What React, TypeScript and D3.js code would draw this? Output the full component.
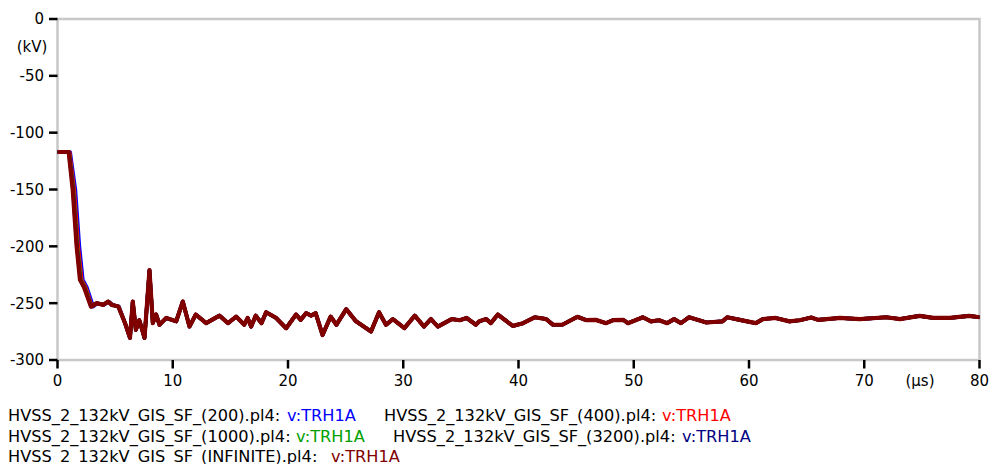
import React from "react";
import * as d3 from "d3";

// ---- data (time in µs, voltage in kV) ----
// initial drop: shared voltage levels, each series reaches them at slightly different times
const headValues = [-117, -117, -150, -200, -229.5, -236, -253, -250, -251.5, -248.6, -251.5, -253];
const headT200 = [0, 1.1, 1.55, 1.9, 2.2, 2.55, 3.1, 3.5, 4.05, 4.45, 4.8, 5.33];
const headT400 = [0, 1.05, 1.45, 1.8, 2.1, 2.45, 3.0, 3.45, 4.0, 4.42, 4.75, 5.3];
const headT1000 = [0, 1.0, 1.38, 1.72, 2.02, 2.37, 2.95, 3.42, 3.98, 4.41, 4.72, 5.29];
const headT3200 = [0, 0.98, 1.34, 1.68, 1.97, 2.32, 2.92, 3.4, 3.97, 4.4, 4.7, 5.28];
const headTInf = [0, 0.97, 1.32, 1.66, 1.95, 2.3, 2.9, 3.4, 3.97, 4.4, 4.7, 5.28];

const tailTimes = [
  5.86, 6.29, 6.53, 6.8, 7.1, 7.55, 7.98, 8.27, 8.56, 8.85, 9.43, 10.3, 10.87, 11.45, 12.0, 12.9,
  14.05, 14.8, 15.5, 16.2, 16.5, 16.8, 17.2, 17.7, 18.1, 18.97, 19.84, 20.7, 21.1, 21.57, 22.0,
  22.4, 23.0, 23.7, 24.2, 25.05, 25.9, 27.2, 27.9, 28.5, 29.1, 30.1, 31.0, 31.8, 32.4, 33.0, 34.2,
  34.9, 35.5, 36.3, 36.6, 37.2, 37.6, 38.2, 39.5, 40.4, 41.4, 42.4, 43.0, 43.8, 45.1, 45.9, 46.7,
  47.6, 48.2, 49.1, 49.5, 50.8, 51.5, 52.2, 52.9, 53.5, 54.1, 54.8, 56.3, 57.7, 58.1, 59.2, 60.6,
  61.2, 62.3, 63.5, 64.4, 65.4, 66.0, 67.9, 69.6, 71.9, 73.1, 74.8, 76, 77.4, 79.1, 80,
];
const tailValues = [
  -267.6, -280.6, -248.6, -273.5, -265, -280.6, -221, -267.5, -260, -269, -263, -266, -248.6, -270.6,
  -260, -267.6, -261, -267.6, -261.8, -269, -263, -270.6, -261, -267.6, -258, -263, -272, -260,
  -264.7, -258.8, -261, -258.8, -278, -261.8, -269, -255.3, -266, -275, -258, -269, -264, -272,
  -261, -270.6, -264, -270.6, -264, -265, -263, -269, -266, -264, -267.6, -260, -270, -267.6,
  -262.4, -264, -269, -269, -262, -265, -264.7, -267.6, -265, -264.7, -267.6, -262.4, -266, -265,
  -267.6, -264, -267.6, -262.4, -267, -266, -262.4, -264.7, -267.6, -264, -263, -266, -265, -262.6,
  -264.7, -263, -264, -262.4, -264, -261.2, -263, -263, -261.2, -262.4,
];

const seriesFiles = [
  "HVSS_2_132kV_GIS_SF_(200).pl4:",
  "HVSS_2_132kV_GIS_SF_(400).pl4:",
  "HVSS_2_132kV_GIS_SF_(1000).pl4:",
  "HVSS_2_132kV_GIS_SF_(3200).pl4:",
  "HVSS_2_132kV_GIS_SF_(INFINITE).pl4:",
];
const seriesVar = ["v:TRH1A", "v:TRH1A", "v:TRH1A", "v:TRH1A", "v:TRH1A"];
const seriesHeadTimes = [headT200, headT400, headT1000, headT3200, headTInf];
const seriesColors = ["#0000ff", "#ff0000", "#00a000", "#000080", "#800000"];

const xTicks = [0, 10, 20, 30, 40, 50, 60, 70, 80];
const yTicks = [0, -50, -100, -150, -200, -250, -300];

// ---- layout ----
const W = 993;
const H = 464;
const left = 57.5;
const right = 979.5;
const top = 19;
const bottom = 360;
const FONT = "DejaVu Sans, sans-serif";

// legend positions [x file, x var, baseline y]
const legendPos = [
  [8, 287, 421],
  [384, 662, 421],
  [8, 296, 442],
  [393, 682, 442],
  [8, 331, 462],
];

export default function App() {
  const x = d3.scaleLinear().domain([0, 80]).range([left, right]);
  const y = d3.scaleLinear().domain([-300, 0]).range([bottom, top]);
  const line = d3
    .line<[number, number]>()
    .x((d) => x(d[0]))
    .y((d) => y(d[1]));

  const vals = headValues.concat(tailValues);
  const paths = seriesHeadTimes.map((ht) => {
    const times = ht.concat(tailTimes);
    return line(times.map((t, i) => [t, vals[i]] as [number, number])) || "";
  });

  return (
    <svg
      width={W}
      height={H}
      style={{ position: "absolute", left: 0, top: 0, background: "#fff" }}
      fontFamily={FONT}
    >
      <rect x={0} y={0} width={W} height={H} fill="#fff" />
      <rect
        x={left}
        y={top}
        width={right - left}
        height={bottom - top}
        fill="none"
        stroke="#c8c8c8"
        strokeWidth={2.5}
      />
      <defs>
        <clipPath id="plotclip">
          <rect x={left} y={top} width={right - left} height={bottom - top} />
        </clipPath>
      </defs>
      <g clipPath="url(#plotclip)" fill="none" strokeLinejoin="round" strokeLinecap="round">
        {paths.map((p, i) => (
          <path key={i} d={p} stroke={seriesColors[i]} strokeWidth={i === 4 ? 4.2 : 3.6} />
        ))}
      </g>
      {yTicks.map((v) => (
        <g key={"y" + v}>
          <line x1={left - 8.5} x2={left} y1={y(v)} y2={y(v)} stroke="#000" strokeWidth={2.5} />
          <text x={44} y={y(v)} dy="0.36em" textAnchor="end" fontSize={15} fill="#000">
            {d3.format("d")(v).replace("\u2212", "-")}
          </text>
        </g>
      ))}
      <text x={32} y={47} dy="0.36em" textAnchor="middle" fontSize={15} fill="#000">
        (kV)
      </text>
      {xTicks.map((v) => (
        <g key={"x" + v}>
          <line x1={x(v)} x2={x(v)} y1={bottom} y2={bottom + 8.5} stroke="#000" strokeWidth={2.5} />
          <text x={x(v)} y={381} dy="0.36em" textAnchor="middle" fontSize={15} fill="#000">
            {v}
          </text>
        </g>
      ))}
      <text x={920} y={381} dy="0.36em" textAnchor="middle" fontSize={15} fill="#000">
        (µs)
      </text>
      {seriesFiles.map((f, i) => (
        <g key={"l" + i}>
          <text x={legendPos[i][0]} y={legendPos[i][2]} fontSize={16.2} fill="#000">
            {f}
          </text>
          <text x={legendPos[i][1]} y={legendPos[i][2]} fontSize={16.2} fill={seriesColors[i]}>
            {seriesVar[i]}
          </text>
        </g>
      ))}
    </svg>
  );
}
